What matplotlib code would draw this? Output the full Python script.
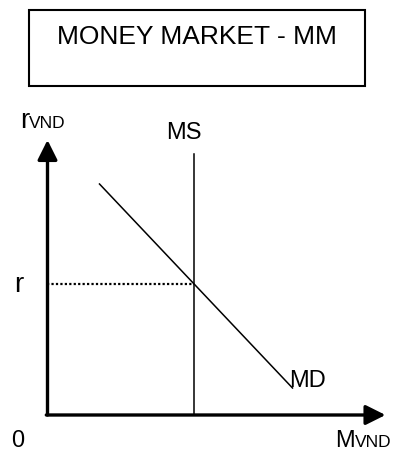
import matplotlib.pyplot as plt
from matplotlib.patches import Rectangle

plt.rcParams['font.family'] = ['Liberation Sans', 'DejaVu Sans']

# data (origin of the diagram = 0,0)
md_x = [52, 245]
md_y = [231, 27]
ms_x = 146.5
ms_top = 261
r_level = 131
x_end = 338
y_end = 275

fig = plt.figure(figsize=(3.94, 4.51), dpi=100)
ax = fig.add_axes([0, 0, 1, 1])
ax.set_xlim(-47.5, 346.5)
ax.set_ylim(-36, 415)
ax.axis("off")

# title box
ax.add_patch(Rectangle((-18.5, 329), 336, 76, fill=False, lw=1.5, ec="black"))
ax.text(149, 378, "MONEY MARKET - MM", fontsize=19, ha="center", va="center")

# axes with arrows
ax.annotate("", xy=(0, y_end), xytext=(0, 0),
            arrowprops=dict(arrowstyle="-|>,head_length=0.8,head_width=0.4",
                            lw=2.4, color="black", mutation_scale=15, shrinkA=0, shrinkB=0))
ax.annotate("", xy=(x_end, 0), xytext=(-1.2, 0),
            arrowprops=dict(arrowstyle="-|>,head_length=0.8,head_width=0.4",
                            lw=2.4, color="black", mutation_scale=15, shrinkA=0, shrinkB=0))

# money supply / demand
ax.plot([ms_x, ms_x], [0, ms_top], color="black", lw=1.1)
ax.plot(md_x, md_y, color="black", lw=1.1)
ax.plot([0, ms_x], [r_level, r_level], color="black", lw=1.6, ls=(0, (1, 1)))

# labels
ax.text(-27.5, 287, "r", fontsize=20, va="baseline")
ax.text(-18.5, 287, "VND", fontsize=12.5, va="baseline")
ax.text(136, 276, "MS", fontsize=17, ha="center", va="baseline")
ax.text(-33, 123, "r", fontsize=20, va="baseline")
ax.text(241.5, 28, "MD", fontsize=17, va="baseline")
ax.text(-36, -32, "0", fontsize=17, va="baseline")
ax.text(287.5, -32, "M", fontsize=17, va="baseline")
ax.text(307.5, -32, "VND", fontsize=12.5, va="baseline")

fig.savefig("out.png", dpi=100)
